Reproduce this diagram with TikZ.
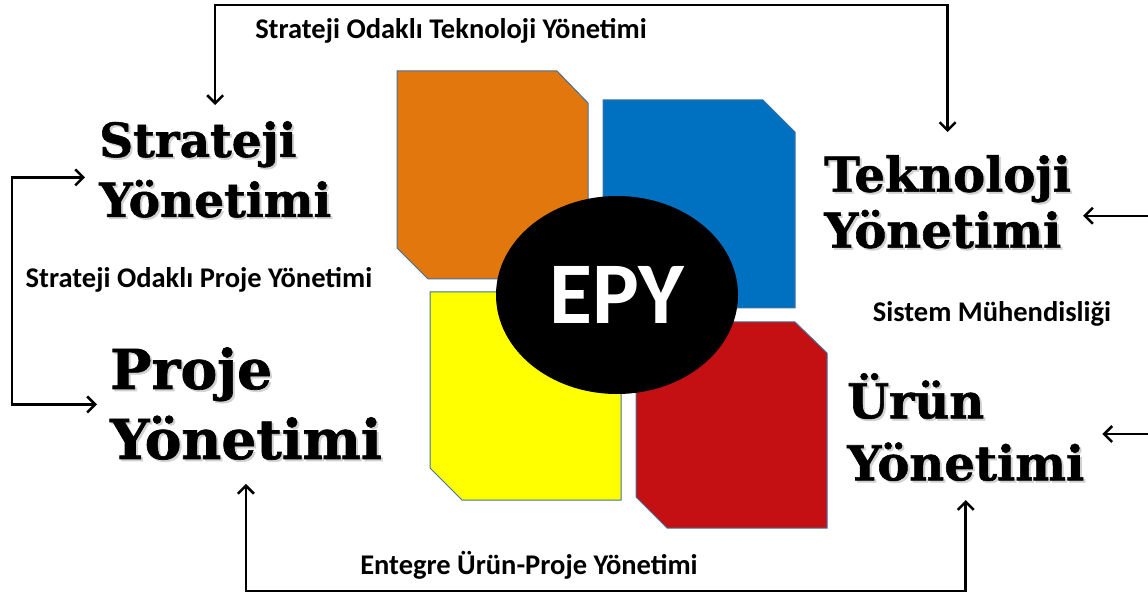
\documentclass[tikz,border=0pt]{standalone}
\usepackage{fontspec}
\setmainfont{DejaVu Serif}
\newfontfamily\slab{DejaVu Serif}[UprightFont=* Bold,FakeBold=1.2]
\newfontfamily\calfont{Carlito}
\usetikzlibrary{arrows.meta,positioning,shapes.geometric}
\definecolor{tileorange}{RGB}{226,119,14}
\definecolor{tileblue}{RGB}{0,112,192}
\definecolor{tileyellow}{RGB}{255,255,0}
\definecolor{tilered}{RGB}{196,16,18}
\definecolor{tileline}{RGB}{65,113,156}
\newcommand{\shd}[1]{\leavevmode\rlap{\kern2pt\raisebox{-2pt}{\color{black!18}#1}}#1}
\tikzset{
	big/.style={font=\slab\fontsize{47}{60}\selectfont,align=left,inner sep=0pt,anchor=north west},
	small/.style={font=\calfont\bfseries\fontsize{28.5}{32}\selectfont,inner sep=0pt},
	tile/.style={draw=tileline,line width=1pt},
	arr/.style={line width=2.5pt,-{Straight Barb[length=8pt,width=16pt]}},
	dbl/.style={line width=2.5pt,{Straight Barb[length=8pt,width=16pt]}-{Straight Barb[length=8pt,width=16pt]}}
}

\begin{document}
\begin{tikzpicture}[x=1pt,y=-1pt]
			\useasboundingbox (0,0) rectangle (1148,593);
			% tiles
			\fill[tile,fill=tileorange] (397,71) -- (557,71) -- (588,103) -- (588,279) -- (428,279) -- (397,248) -- cycle;
			\fill[tile,fill=tileblue] (603,100) -- (763,100) -- (795,132) -- (795,308) -- (603,308) -- cycle;
			\fill[tile,fill=tileyellow] (430,292) -- (621,292) -- (621,500) -- (462,500) -- (430,468) -- cycle;
			\fill[tile,fill=tilered] (636,322) -- (795,322) -- (827,353) -- (827,528) -- (667,528) -- (636,497) -- cycle;
			\node[ellipse,fill=black,minimum width=242pt,minimum height=198pt,inner sep=0pt,
				text=white,font=\calfont\bfseries\fontsize{88}{90}\selectfont] (epy) at (617,295) {EPY};
			
			\node[big] (strat) at (99,121) {\shd{Strateji}\\\shd{Yönetimi}};
			\node[big,font=\slab\fontsize{55}{70}\selectfont] (proje) at (110,347) {\shd{Proje}\\\shd{Yönetimi}};
			\node[big,font=\slab\fontsize{48}{56}\selectfont] (tek) at (824,155) {\shd{Teknoloji}\\\shd{Yönetimi}};
			\node[big,font=\slab\fontsize{48}{62}\selectfont] (urun) at (847,373) {\shd{Ürün}\\\shd{Yönetimi}};
			
			\node[small] (stl) at (451,31) {Strateji Odaklı Teknoloji Yönetimi};
			\node[small] (spl) at (199,280) {Strateji Odaklı Proje Yönetimi};
			\node[small] (sml) at (992,314) {Sistem Mühendisliği};
			\node[small] (eul) at (529,565) {Entegre Ürün-Proje Yönetimi};
			
			\coordinate (top) at (580,5);
			\coordinate (side) at (12,290);
			\coordinate (bot) at (600,591);
			\coordinate (edge) at (1150,0);
			
			\draw[dbl] ([yshift=16pt]strat.north) |- (top) -| ([yshift=23pt]tek.north);
			\draw[dbl] ([xshift=-14pt,yshift=-7pt]strat.west) -| (side) |- ([xshift=-13pt]proje.west);
			\draw[dbl] ([yshift=-22pt]proje.south) |- (bot) -| ([yshift=-17pt]urun.south);
			\draw[arr] ([yshift=-13pt]tek.east -| edge) -- ([xshift=12pt,yshift=-13pt]tek.east);
			\draw[arr] ([yshift=-6pt]urun.east -| edge) -- ([xshift=18pt,yshift=-6pt]urun.east);
		\end{tikzpicture}
\end{document}
